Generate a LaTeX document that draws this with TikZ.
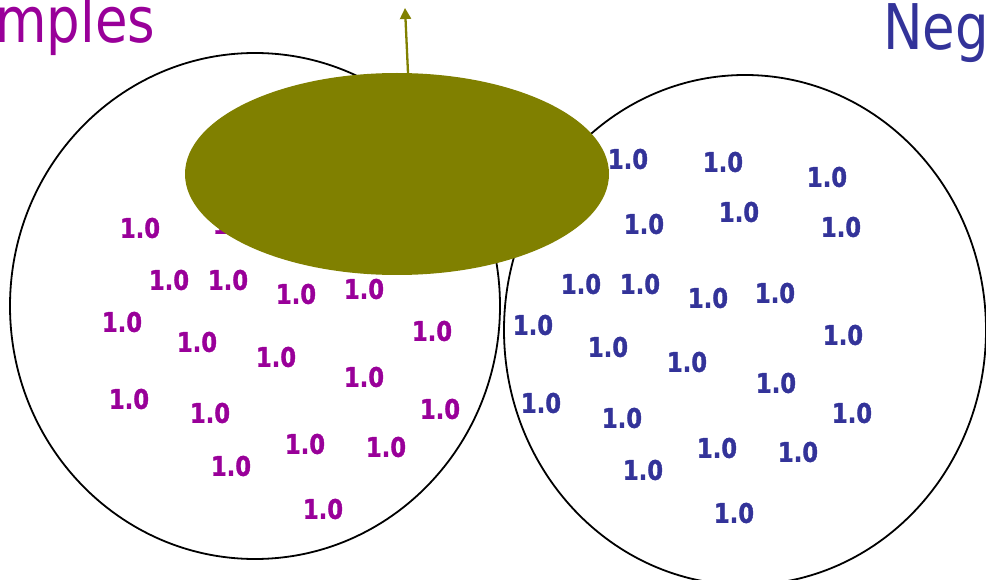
\documentclass[tikz,border=0pt]{standalone}
\usepackage{fontspec}
\setsansfont{DejaVu Sans}[FakeStretch=0.84]
\newfontfamily\weightfont{DejaVu Sans Bold}[FakeStretch=0.84, FakeBold=1.2]
\usepackage{xcolor}
\usepackage{tikz}
\usetikzlibrary{positioning,shapes.geometric,arrows.meta}

\definecolor{posclr}{RGB}{153,0,153}
\definecolor{negclr}{RGB}{51,51,153}
\definecolor{blobclr}{RGB}{128,128,0}

\tikzset{
    setcircle/.style={draw, ellipse, line width=1.8pt, inner sep=0},
    weight/.style={inner sep=0, font=\weightfont\fontsize{27}{27}\selectfont},
    title/.style={inner sep=0, anchor=base west, font=\sffamily\fontsize{63}{63}\selectfont}
}

\begin{document}
\begin{tikzpicture}[x=1pt, y=-1pt]
    \useasboundingbox (0,0) rectangle (986,580);
    \clip (0,0) rectangle (986,580);

    \node[title, text=posclr] (postitle) at (-5,43) {mples};
    \node[title, text=negclr] (negtitle) at (883,50) {Neg};

    % the two sets
    \node[setcircle, minimum width=490, minimum height=506] (posset) at (255,306) {};
    \node[setcircle, minimum width=482, minimum height=510] (negset) at (745,330) {};

    \foreach \x/\y [count=\i] in {140/228, 233/224, 169/280, 228/280, 296/294, 364/289,
            122/322, 197/342, 276/357, 432/331, 364/377, 129/399, 210/413, 440/409,
            305/444, 386/447, 231/466, 323/509}
        \node[weight, text=posclr] (p\i) at (\x,\y) {1.0};

    \foreach \x/\y [count=\i] in {628/159, 723/162, 827/177, 739/212, 644/224, 841/227,
            581/284, 640/284, 708/298, 775/293, 533/325, 608/347, 687/362, 843/335,
            776/383, 541/403, 622/418, 717/448, 798/452, 852/413, 643/470, 734/513}
        \node[weight, text=negclr] (n\i) at (\x,\y) {1.0};

    % hypothesis blob
    \node[ellipse, fill=blobclr, inner sep=0, minimum width=424, minimum height=202] (blob) at (397,174) {};
    \coordinate (tip) at (405,8);
    \draw[blobclr, line width=2.3pt, -{Triangle[length=11pt,width=11pt]}] ([xshift=11]blob.north) -- (tip);
\end{tikzpicture}
\end{document}
